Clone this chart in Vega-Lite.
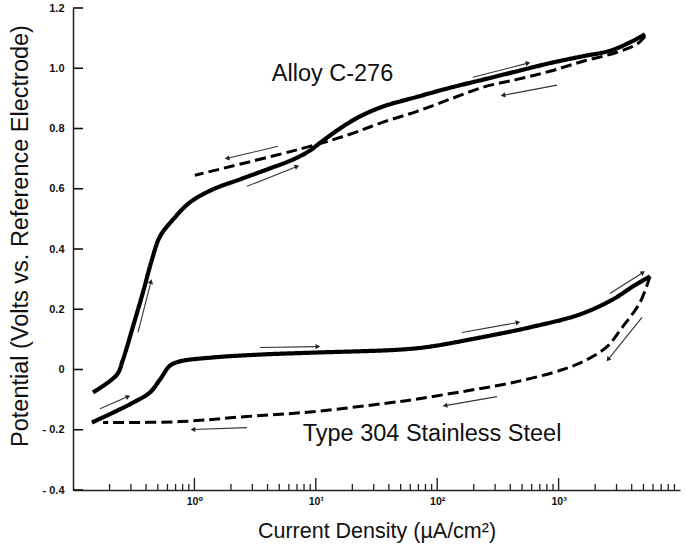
{
  "$schema": "https://vega.github.io/schema/vega-lite/v6.json",
  "width": 607,
  "height": 482,
  "autosize": {"type": "none"},
  "padding": {"left": 73, "top": 8, "right": 5, "bottom": 56},
  "background": "white",
  "config": {"view": {"stroke": null}, "font": "Liberation Sans"},
  "datasets": {
    "curves": [
      {"curve": "alloy", "dir": "forward", "i": 0, "x": 0.146, "y": -0.076},
      {"curve": "alloy", "dir": "forward", "i": 1, "x": 0.230, "y": -0.017},
      {"curve": "alloy", "dir": "forward", "i": 2, "x": 0.258, "y": 0.033},
      {"curve": "alloy", "dir": "forward", "i": 3, "x": 0.312, "y": 0.143},
      {"curve": "alloy", "dir": "forward", "i": 4, "x": 0.377, "y": 0.256},
      {"curve": "alloy", "dir": "forward", "i": 5, "x": 0.447, "y": 0.365},
      {"curve": "alloy", "dir": "forward", "i": 6, "x": 0.521, "y": 0.442},
      {"curve": "alloy", "dir": "forward", "i": 7, "x": 0.667, "y": 0.498},
      {"curve": "alloy", "dir": "forward", "i": 8, "x": 0.920, "y": 0.555},
      {"curve": "alloy", "dir": "forward", "i": 9, "x": 1.42, "y": 0.598},
      {"curve": "alloy", "dir": "forward", "i": 10, "x": 2.37, "y": 0.631},
      {"curve": "alloy", "dir": "forward", "i": 11, "x": 3.96, "y": 0.664},
      {"curve": "alloy", "dir": "forward", "i": 12, "x": 6.49, "y": 0.697},
      {"curve": "alloy", "dir": "forward", "i": 13, "x": 8.96, "y": 0.727},
      {"curve": "alloy", "dir": "forward", "i": 14, "x": 10.8, "y": 0.752},
      {"curve": "alloy", "dir": "forward", "i": 15, "x": 15.8, "y": 0.800},
      {"curve": "alloy", "dir": "forward", "i": 16, "x": 23.1, "y": 0.840},
      {"curve": "alloy", "dir": "forward", "i": 17, "x": 35.8, "y": 0.873},
      {"curve": "alloy", "dir": "forward", "i": 18, "x": 68.2, "y": 0.905},
      {"curve": "alloy", "dir": "forward", "i": 19, "x": 127, "y": 0.935},
      {"curve": "alloy", "dir": "forward", "i": 20, "x": 238, "y": 0.962},
      {"curve": "alloy", "dir": "forward", "i": 21, "x": 454, "y": 0.990},
      {"curve": "alloy", "dir": "forward", "i": 22, "x": 849, "y": 1.017},
      {"curve": "alloy", "dir": "forward", "i": 23, "x": 1589, "y": 1.040},
      {"curve": "alloy", "dir": "forward", "i": 24, "x": 2650, "y": 1.058},
      {"curve": "alloy", "dir": "forward", "i": 25, "x": 3873, "y": 1.086},
      {"curve": "alloy", "dir": "forward", "i": 26, "x": 5150, "y": 1.113},
      {"curve": "alloy", "dir": "reverse", "i": 0, "x": 5150, "y": 1.106},
      {"curve": "alloy", "dir": "reverse", "i": 1, "x": 4426, "y": 1.080},
      {"curve": "alloy", "dir": "reverse", "i": 2, "x": 3027, "y": 1.053},
      {"curve": "alloy", "dir": "reverse", "i": 3, "x": 1589, "y": 1.023},
      {"curve": "alloy", "dir": "reverse", "i": 4, "x": 849, "y": 0.990},
      {"curve": "alloy", "dir": "reverse", "i": 5, "x": 454, "y": 0.963},
      {"curve": "alloy", "dir": "reverse", "i": 6, "x": 238, "y": 0.937},
      {"curve": "alloy", "dir": "reverse", "i": 7, "x": 127, "y": 0.897},
      {"curve": "alloy", "dir": "reverse", "i": 8, "x": 68.2, "y": 0.857},
      {"curve": "alloy", "dir": "reverse", "i": 9, "x": 35.8, "y": 0.821},
      {"curve": "alloy", "dir": "reverse", "i": 10, "x": 19.1, "y": 0.781},
      {"curve": "alloy", "dir": "reverse", "i": 11, "x": 8.46, "y": 0.738},
      {"curve": "alloy", "dir": "reverse", "i": 12, "x": 1.01, "y": 0.645},
      {"curve": "steel", "dir": "forward", "i": 0, "x": 0.143, "y": -0.176},
      {"curve": "steel", "dir": "forward", "i": 1, "x": 0.214, "y": -0.143},
      {"curve": "steel", "dir": "forward", "i": 2, "x": 0.312, "y": -0.110},
      {"curve": "steel", "dir": "forward", "i": 3, "x": 0.431, "y": -0.076},
      {"curve": "steel", "dir": "forward", "i": 4, "x": 0.521, "y": -0.033},
      {"curve": "steel", "dir": "forward", "i": 5, "x": 0.630, "y": 0.013},
      {"curve": "steel", "dir": "forward", "i": 6, "x": 0.760, "y": 0.027},
      {"curve": "steel", "dir": "forward", "i": 7, "x": 1.42, "y": 0.040},
      {"curve": "steel", "dir": "forward", "i": 8, "x": 3.67, "y": 0.050},
      {"curve": "steel", "dir": "forward", "i": 9, "x": 9.49, "y": 0.056},
      {"curve": "steel", "dir": "forward", "i": 10, "x": 49.4, "y": 0.066},
      {"curve": "steel", "dir": "forward", "i": 11, "x": 87.3, "y": 0.076},
      {"curve": "steel", "dir": "forward", "i": 12, "x": 225, "y": 0.106},
      {"curve": "steel", "dir": "forward", "i": 13, "x": 581, "y": 0.140},
      {"curve": "steel", "dir": "forward", "i": 14, "x": 1500, "y": 0.183},
      {"curve": "steel", "dir": "forward", "i": 15, "x": 2805, "y": 0.233},
      {"curve": "steel", "dir": "forward", "i": 16, "x": 4100, "y": 0.276},
      {"curve": "steel", "dir": "forward", "i": 17, "x": 5660, "y": 0.309},
      {"curve": "steel", "dir": "reverse", "i": 0, "x": 5660, "y": 0.309},
      {"curve": "steel", "dir": "reverse", "i": 1, "x": 4688, "y": 0.223},
      {"curve": "steel", "dir": "reverse", "i": 2, "x": 3390, "y": 0.143},
      {"curve": "steel", "dir": "reverse", "i": 3, "x": 2506, "y": 0.076},
      {"curve": "steel", "dir": "reverse", "i": 4, "x": 1715, "y": 0.033},
      {"curve": "steel", "dir": "reverse", "i": 5, "x": 1087, "y": 0.000},
      {"curve": "steel", "dir": "reverse", "i": 6, "x": 421, "y": -0.043},
      {"curve": "steel", "dir": "reverse", "i": 7, "x": 163, "y": -0.073},
      {"curve": "steel", "dir": "reverse", "i": 8, "x": 63.2, "y": -0.100},
      {"curve": "steel", "dir": "reverse", "i": 9, "x": 49.4, "y": -0.106},
      {"curve": "steel", "dir": "reverse", "i": 10, "x": 9.49, "y": -0.140},
      {"curve": "steel", "dir": "reverse", "i": 11, "x": 2.71, "y": -0.156},
      {"curve": "steel", "dir": "reverse", "i": 12, "x": 0.760, "y": -0.173},
      {"curve": "steel", "dir": "reverse", "i": 13, "x": 0.177, "y": -0.176}
    ],
    "arrows": [
      {"x": 0.343, "y": 0.123, "x2": 0.439, "y2": 0.292, "angle": 14},
      {"x": 2.71, "y": 0.608, "x2": 7.00, "y2": 0.674, "angle": 68},
      {"x": 4.88, "y": 0.741, "x2": 1.86, "y2": 0.701, "angle": 257},
      {"x": 197, "y": 0.970, "x2": 560, "y2": 1.017, "angle": 76},
      {"x": 970, "y": 0.944, "x2": 348, "y2": 0.910, "angle": 260},
      {"x": 0.167, "y": -0.130, "x2": 0.284, "y2": -0.090, "angle": 67},
      {"x": 3.47, "y": 0.073, "x2": 10.4, "y2": 0.076, "angle": 89},
      {"x": 2.71, "y": -0.193, "x2": 0.973, "y2": -0.199, "angle": 268},
      {"x": 160, "y": 0.123, "x2": 463, "y2": 0.156, "angle": 80},
      {"x": 2650, "y": 0.252, "x2": 4955, "y2": 0.322, "angle": 57},
      {"x": 4864, "y": 0.173, "x2": 2553, "y2": 0.033, "angle": 219},
      {"x": 311, "y": -0.090, "x2": 116, "y2": -0.120, "angle": 260}
    ],
    "labels": [
      {"label": "Alloy C-276", "x": 4.34, "y": 0.958},
      {"label": "Type 304 Stainless Steel", "x": 7.8, "y": -0.236}
    ],
    "xticks": [
      {"v": 0.2, "kind": "minor"}, {"v": 0.3, "kind": "minor"}, {"v": 0.4, "kind": "minor"}, {"v": 0.5, "kind": "minor"}, {"v": 0.6, "kind": "minor"}, {"v": 0.7, "kind": "minor"}, {"v": 0.8, "kind": "minor"}, {"v": 0.9, "kind": "minor"},
      {"v": 1, "kind": "major"},
      {"v": 2, "kind": "minor"}, {"v": 3, "kind": "minor"}, {"v": 4, "kind": "minor"}, {"v": 5, "kind": "minor"}, {"v": 6, "kind": "minor"}, {"v": 7, "kind": "minor"}, {"v": 8, "kind": "minor"}, {"v": 9, "kind": "minor"},
      {"v": 10, "kind": "major"},
      {"v": 20, "kind": "minor"}, {"v": 30, "kind": "minor"}, {"v": 40, "kind": "minor"}, {"v": 50, "kind": "minor"}, {"v": 60, "kind": "minor"}, {"v": 70, "kind": "minor"}, {"v": 80, "kind": "minor"}, {"v": 90, "kind": "minor"},
      {"v": 100, "kind": "major"},
      {"v": 200, "kind": "minor"}, {"v": 300, "kind": "minor"}, {"v": 400, "kind": "minor"}, {"v": 500, "kind": "minor"}, {"v": 600, "kind": "minor"}, {"v": 700, "kind": "minor"}, {"v": 800, "kind": "minor"}, {"v": 900, "kind": "minor"},
      {"v": 1000, "kind": "major"},
      {"v": 2000, "kind": "minor"}, {"v": 3000, "kind": "minor"}, {"v": 4000, "kind": "minor"}, {"v": 5000, "kind": "minor"}, {"v": 6000, "kind": "minor"}, {"v": 7000, "kind": "minor"}, {"v": 8000, "kind": "minor"}, {"v": 9000, "kind": "minor"}
    ],
    "yticks": [
      {"p": -0.4}, {"p": -0.2}, {"p": 0}, {"p": 0.2}, {"p": 0.4}, {"p": 0.6}, {"p": 0.8}, {"p": 1.0}, {"p": 1.2}
    ]
  },
  "layer": [
    {
      "data": {"name": "curves"},
      "mark": {"type": "line", "color": "#000", "strokeCap": "butt", "strokeJoin": "round", "interpolate": "catmull-rom"},
      "encoding": {
        "x": {
          "field": "x", "type": "quantitative",
          "scale": {"type": "log", "domain": [0.1, 10000], "nice": false},
          "axis": {
            "values": [1, 10, 100, 1000],
            "labelExpr": "datum.value == 1 ? '10⁰' : datum.value == 10 ? '10¹' : datum.value == 100 ? '10²' : '10³'",
            "ticks": false,
            "labelPadding": 6,
            "labelFont": "Liberation Sans, DejaVu Sans",
            "labelFontWeight": "bold",
            "labelFontSize": 10.5,
            "labelColor": "#111",
            "labelOverlap": false,
            "labelFlush": false,
            "domainColor": "#222",
            "domainWidth": 1.5,
            "grid": false,
            "title": "Current Density (µA/cm²)",
            "titleFont": "Liberation Sans",
            "titleFontSize": 21.5,
            "titleFontWeight": "normal",
            "titleColor": "#111",
            "titleY": 47,
            "titleBaseline": "alphabetic"
          }
        },
        "y": {
          "field": "y", "type": "quantitative",
          "scale": {"domain": [-0.4, 1.2], "nice": false, "zero": false},
          "axis": {
            "values": [-0.4, -0.2, 0, 0.2, 0.4, 0.6, 0.8, 1, 1.2],
            "labelExpr": "datum.value == 0 ? '0' : datum.value < 0 ? '- ' + format(-datum.value, '.1f') : format(datum.value, '.1f')",
            "ticks": false,
            "labelPadding": 9,
            "labelFont": "Liberation Sans",
            "labelFontWeight": "bold",
            "labelFontSize": 11,
            "labelColor": "#111",
            "labelOverlap": false,
            "labelFlush": false,
            "domainColor": "#222",
            "domainWidth": 1.5,
            "grid": false,
            "title": "Potential (Volts vs. Reference Electrode)",
            "titleFont": "Liberation Sans",
            "titleFontSize": 23.5,
            "titleFontWeight": "normal",
            "titleColor": "#111",
            "titleAngle": 270,
            "titleAlign": "center",
            "titleBaseline": "alphabetic",
            "titleX": -46,
            "titleY": 227.5
          }
        },
        "detail": {"field": "curve"},
        "order": {"field": "i"},
        "strokeDash": {"field": "dir", "type": "nominal", "scale": {"domain": ["forward", "reverse"], "range": [[1, 0], [11, 5]]}, "legend": null},
        "strokeWidth": {"field": "dir", "type": "ordinal", "scale": {"domain": ["forward", "reverse"], "range": [4.2, 3]}, "legend": null}
      }
    },
    {
      "data": {"name": "arrows"},
      "mark": {"type": "rule", "color": "#333", "strokeWidth": 1.1},
      "encoding": {
        "x": {"field": "x", "type": "quantitative"},
        "y": {"field": "y", "type": "quantitative"},
        "x2": {"field": "x2"},
        "y2": {"field": "y2"}
      }
    },
    {
      "data": {"name": "arrows"},
      "mark": {"type": "point", "shape": "triangle-up", "filled": true, "color": "#222", "size": 28, "opacity": 1},
      "encoding": {
        "x": {"field": "x2", "type": "quantitative"},
        "y": {"field": "y2", "type": "quantitative"},
        "angle": {"field": "angle", "type": "quantitative", "scale": null}
      }
    },
    {
      "data": {"name": "labels"},
      "mark": {"type": "text", "align": "left", "baseline": "alphabetic", "font": "Liberation Sans", "fontSize": 23.5, "color": "#111"},
      "encoding": {
        "x": {"field": "x", "type": "quantitative"},
        "y": {"field": "y", "type": "quantitative"},
        "text": {"field": "label"}
      }
    },
    {
      "data": {"name": "xticks"},
      "transform": [{"filter": "datum.kind == 'major'"}],
      "mark": {"type": "tick", "orient": "vertical", "color": "#222", "size": 12, "thickness": 1.4, "yOffset": -6, "opacity": 1},
      "encoding": {
        "x": {"field": "v", "type": "quantitative"},
        "y": {"datum": -0.4, "type": "quantitative"}
      }
    },
    {
      "data": {"name": "xticks"},
      "transform": [{"filter": "datum.kind == 'minor'"}],
      "mark": {"type": "tick", "orient": "vertical", "color": "#222", "size": 6, "thickness": 1.3, "yOffset": -3, "opacity": 1},
      "encoding": {
        "x": {"field": "v", "type": "quantitative"},
        "y": {"datum": -0.4, "type": "quantitative"}
      }
    },
    {
      "data": {"name": "yticks"},
      "mark": {"type": "rule", "color": "#111", "strokeWidth": 1.6, "opacity": 1},
      "encoding": {
        "y": {"field": "p", "type": "quantitative"},
        "x": {"datum": 0.1, "type": "quantitative"},
        "x2": {"datum": 0.121}
      }
    }
  ]
}
